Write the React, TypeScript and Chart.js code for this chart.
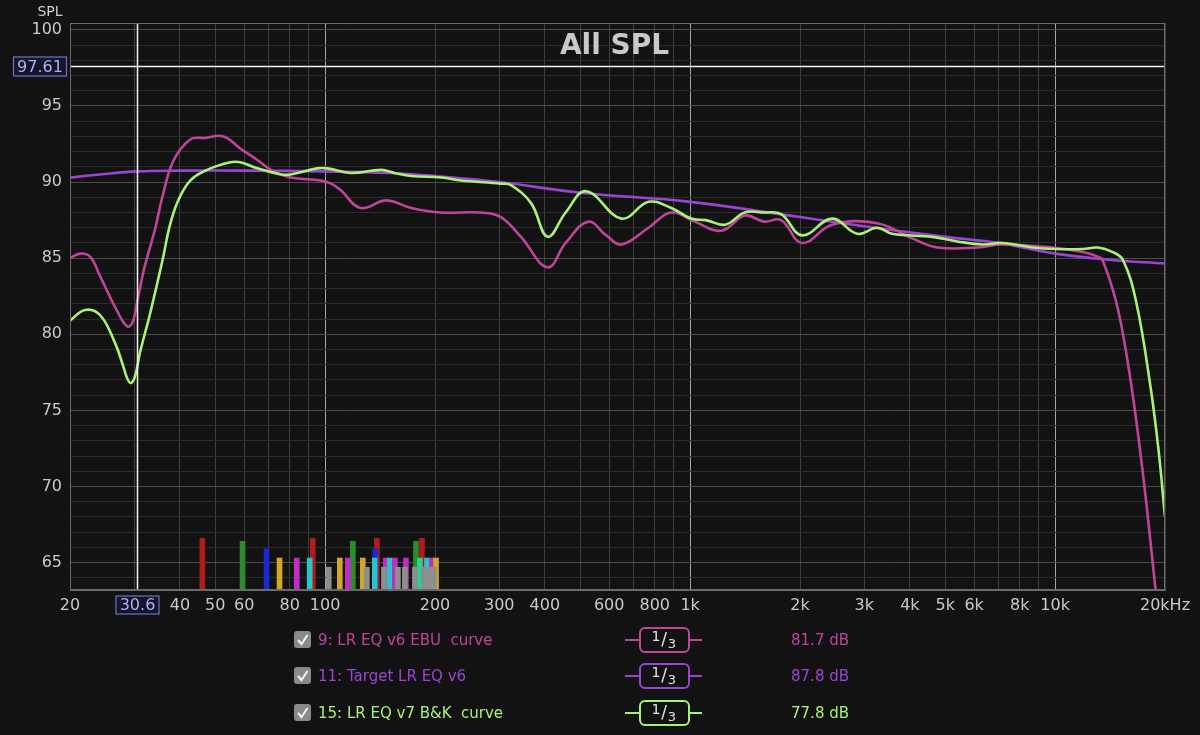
import React, { useEffect, useRef } from 'react';
import { Chart, registerables } from 'chart.js';

Chart.register(...registerables);

// ---- data ----
const FREQ_EBU = [20, 21.3, 22.7, 24.2, 25.8, 27.1, 28.0, 28.9, 29.8, 30.6, 32.0, 34.2, 35.8, 38.4, 42.7, 46.8, 52.7, 58.6, 64.8, 72.2, 80.4, 97.2, 103.8, 110, 125, 147, 172, 208, 267, 303, 344, 407, 456, 526, 589, 649, 769, 888, 1030, 1216, 1413, 1593, 1775, 2026, 2449, 3254, 4063, 4757, 6127, 7175, 9847, 11909, 13093, 13474, 14670, 15630, 16650, 17740, 18770, 19200];
const SPL_EBU = [85.0, 85.3, 85.1, 83.8, 82.4, 81.4, 80.8, 80.5, 80.9, 82.2, 84.4, 86.9, 89.0, 91.4, 92.8, 92.9, 93.0, 92.2, 91.5, 90.7, 90.3, 90.1, 89.9, 89.5, 88.3, 88.8, 88.3, 88.0, 88.0, 87.7, 86.4, 84.4, 86.0, 87.4, 86.5, 85.9, 87.0, 88.0, 87.4, 86.8, 87.8, 87.4, 87.5, 86.0, 87.2, 87.3, 86.3, 85.7, 85.7, 85.9, 85.7, 85.4, 85.1, 84.9, 82.2, 78.9, 74.5, 69.1, 63.6, 61.5];

const FREQ_TARGET = [20, 24.2, 30.6, 40, 60, 100, 150, 200, 300, 500, 1000, 2000, 3000, 5000, 7000, 10000, 14000, 20000];
const SPL_TARGET = [90.3, 90.5, 90.7, 90.75, 90.75, 90.7, 90.6, 90.4, 90.0, 89.3, 88.7, 87.7, 87.1, 86.4, 86.0, 85.3, 84.9, 84.65];

const FREQ_BK = [20, 22.0, 24.2, 26.6, 27.9, 28.7, 29.4, 30.2, 31.1, 33.1, 35.8, 37.6, 39.6, 42.7, 47.5, 55.0, 58.6, 65.2, 75.8, 80.4, 95.1, 101.3, 117.5, 142.6, 155, 172, 208, 236, 303, 323, 367, 407, 456, 519, 649, 769, 888, 1006, 1105, 1248, 1411, 1590, 1775, 2026, 2449, 2869, 3254, 3578, 4610, 5399, 6325, 7175, 8680, 10000, 11909, 13093, 14390, 15330, 16650, 18190, 19200, 20000];
const SPL_BK = [80.9, 81.6, 81.25, 79.4, 78.0, 77.1, 76.8, 77.3, 78.8, 81.3, 84.8, 87.2, 88.8, 90.1, 90.8, 91.3, 91.3, 90.9, 90.5, 90.5, 90.9, 90.9, 90.6, 90.8, 90.6, 90.4, 90.3, 90.1, 89.9, 89.8, 88.6, 86.4, 88.0, 89.4, 87.6, 88.7, 88.3, 87.6, 87.5, 87.2, 88.0, 88.0, 87.9, 86.5, 87.6, 86.6, 87.0, 86.6, 86.4, 86.1, 85.9, 86.0, 85.7, 85.6, 85.6, 85.7, 85.4, 84.9, 82.2, 76.8, 72.4, 68.0];

const BAR_FREQ = [46.1, 59.4, 69.1, 75.0, 83.6, 90.7, 92.5, 102.3, 109.7, 115.4, 119.1, 126.8, 130.1, 136.8, 137.2, 138.6, 144.9, 146.7, 150.5, 155.3, 158.3, 165.4, 166.5, 176.2, 177.4, 181.9, 184.2, 186.5, 190.1, 192.5, 196.3, 198.5, 201.3];
const BAR_LEVEL = [66.6, 66.4, 65.9, 65.3, 65.3, 65.3, 66.6, 64.7, 65.3, 65.3, 66.4, 65.3, 64.7, 65.3, 65.9, 66.6, 64.7, 65.3, 65.3, 65.3, 64.7, 64.7, 65.3, 64.7, 66.4, 65.3, 66.6, 64.7, 65.3, 64.7, 65.3, 64.7, 65.3];
const BAR_KIND = ['red', 'green', 'blue', 'yellow', 'magenta', 'cyan', 'red', 'gray', 'yellow', 'magenta', 'green', 'yellow', 'gray', 'cyan', 'blue', 'red', 'gray', 'magenta', 'cyan', 'magenta', 'gray', 'gray', 'magenta', 'gray', 'green', 'spring', 'red', 'gray', 'cyan', 'gray', 'magenta', 'gray', 'yellow'];
const BAR_PALETTE: Record<string, string> = {
  red: '#b01c1c', green: '#2a8c2a', blue: '#1c28d0', yellow: '#d0a828',
  magenta: '#c42ac4', cyan: '#2ac4c8', gray: '#8e8e8e', spring: '#1ed890',
};

const X_GRID = [20, 30, 40, 50, 60, 70, 80, 90, 100, 200, 300, 400, 500, 600, 700, 800, 900, 1000, 2000, 3000, 4000, 5000, 6000, 7000, 8000, 9000, 10000, 20000];
const X_LABELS: Record<number, string> = {
  20: '20', 40: '40', 50: '50', 60: '60', 80: '80', 100: '100', 200: '200', 300: '300', 400: '400',
  600: '600', 800: '800', 1000: '1k', 2000: '2k', 3000: '3k', 4000: '4k', 5000: '5k', 6000: '6k',
  8000: '8k', 10000: '10k', 20000: '20kHz',
};
const Y_MIN = 63.2;
const Y_MAX = 100.45;
const CURSOR_FREQ = 30.6;
const CURSOR_SPL = 97.61;

const SERIES_NAMES = ['9: LR EQ v6 EBU  curve', '11: Target LR EQ v6', '15: LR EQ v7 B&K  curve'];
const SERIES_DB = ['81.7 dB', '87.8 dB', '77.8 dB'];
const SERIES_COLORS = ['#c0449a', '#9c44d2', '#a8f276'];

const FONT = '"DejaVu Sans", "Noto Sans", sans-serif';
const BG = '#121212';

const toPoints = (xs: number[], ys: number[]) => xs.map((x, i) => ({ x, y: ys[i] }));

const overlayPlugin = {
  id: 'overlay',
  beforeDraw(chart: any) {
    const ctx = chart.ctx;
    ctx.save();
    ctx.fillStyle = BG;
    ctx.fillRect(0, 0, chart.width, chart.height);
    ctx.restore();
  },
  afterDatasetsDraw(chart: any) {
    const ctx = chart.ctx;
    const { left, right, top, bottom } = chart.chartArea;
    const xs = chart.scales.x;
    const ys = chart.scales.y;
    ctx.save();
    // cursor lines
    ctx.strokeStyle = '#f2f2f2';
    ctx.lineWidth = 1.5;
    const cx = Math.round(xs.getPixelForValue(CURSOR_FREQ)) + 0.5;
    const cy = Math.round(ys.getPixelForValue(CURSOR_SPL)) + 0.5;
    ctx.beginPath();
    ctx.moveTo(cx, top);
    ctx.lineTo(cx, bottom);
    ctx.moveTo(left, cy);
    ctx.lineTo(right, cy);
    ctx.stroke();
    // frame
    ctx.strokeStyle = '#6a6a6a';
    ctx.lineWidth = 1;
    ctx.strokeRect(left + 0.5, top + 0.5, right - left - 1, bottom - top - 1);
    // title
    ctx.fillStyle = '#c9c9c9';
    ctx.font = `bold 28px ${FONT}`;
    ctx.textAlign = 'center';
    ctx.textBaseline = 'alphabetic';
    ctx.fillText('All SPL', (left + right) / 2 - 3, top + 31);
    // axis title
    ctx.font = `14px ${FONT}`;
    ctx.fillStyle = '#d0d0d0';
    ctx.fillText('SPL', 50, 16);
    // cursor boxes
    const box = (text: string, xc: number, yc: number, w: number, h: number) => {
      ctx.fillStyle = '#14142a';
      ctx.fillRect(xc - w / 2, yc - h / 2, w, h);
      ctx.strokeStyle = '#7070c4';
      ctx.lineWidth = 1.2;
      ctx.strokeRect(xc - w / 2 + 0.5, yc - h / 2 + 0.5, w - 1, h - 1);
      ctx.fillStyle = '#aeaef4';
      ctx.font = `16px ${FONT}`;
      ctx.textAlign = 'center';
      ctx.textBaseline = 'middle';
      ctx.fillText(text, xc, yc + 1);
    };
    box(CURSOR_SPL.toFixed(2), 40, cy, 54, 20);
    box(String(CURSOR_FREQ), cx, bottom + 15, 44, 19);
    // legend
    const rowsY = [640, 676, 713];
    rowsY.forEach((yy, i) => {
      const col = SERIES_COLORS[i];
      // checkbox
      ctx.fillStyle = '#8a8a8a';
      ctx.beginPath();
      ctx.roundRect(294, yy - 9, 17, 17, 3);
      ctx.fill();
      ctx.strokeStyle = '#f4f4f4';
      ctx.lineWidth = 2;
      ctx.beginPath();
      ctx.moveTo(298, yy);
      ctx.lineTo(301.5, yy + 4);
      ctx.lineTo(307.5, yy - 5);
      ctx.stroke();
      // name
      ctx.fillStyle = col;
      ctx.font = `15px ${FONT}`;
      ctx.textAlign = 'left';
      ctx.textBaseline = 'middle';
      ctx.fillText(SERIES_NAMES[i], 318, yy + 1);
      // line symbol
      ctx.strokeStyle = col;
      ctx.lineWidth = 2;
      ctx.beginPath();
      ctx.moveTo(625, yy);
      ctx.lineTo(702, yy);
      ctx.stroke();
      ctx.fillStyle = BG;
      ctx.beginPath();
      ctx.roundRect(640, yy - 12, 49, 24, 5);
      ctx.fill();
      ctx.stroke();
      ctx.fillStyle = '#e2e2e2';
      ctx.font = `14px ${FONT}`;
      ctx.textAlign = 'center';
      ctx.fillText('1', 656, yy - 3);
      ctx.font = `17px ${FONT}`;
      ctx.fillText('/', 664, yy + 1);
      ctx.font = `13px ${FONT}`;
      ctx.fillText('3', 672, yy + 5);
      // value
      ctx.fillStyle = col;
      ctx.font = `15px ${FONT}`;
      ctx.textAlign = 'right';
      ctx.fillText(SERIES_DB[i], 849, yy + 1);
    });
    ctx.restore();
  },
};

export default function App() {
  const canvasRef = useRef<HTMLCanvasElement | null>(null);

  useEffect(() => {
    document.body.style.margin = '0';
    document.body.style.background = BG;
    const canvas = canvasRef.current;
    if (!canvas) return;

    const barOrder = BAR_FREQ.map((_, i) => i).sort((a, b) => BAR_LEVEL[b] - BAR_LEVEL[a]);
    const barData = barOrder.map((i) => ({ x: BAR_FREQ[i], y: [Y_MIN, BAR_LEVEL[i]] }));
    const barColors = barOrder.map((i) => BAR_PALETTE[BAR_KIND[i]]);

    const lineDs = (label: string, xs: number[], ys: number[], color: string, order: number) => ({
      type: 'line' as const,
      label,
      data: toPoints(xs, ys),
      borderColor: color,
      backgroundColor: color,
      borderWidth: 2.6,
      pointRadius: 0,
      cubicInterpolationMode: 'default' as const,
      tension: 0.4,
      fill: false,
      order,
    });

    const chart = new Chart(canvas, {
      type: 'line',
      data: {
        datasets: [
          {
            type: 'bar' as const,
            label: 'filters',
            data: barData as any,
            backgroundColor: barColors,
            barThickness: 5,
            borderWidth: 0,
            order: 4,
          } as any,
          lineDs(SERIES_NAMES[1], FREQ_TARGET, SPL_TARGET, SERIES_COLORS[1], 3),
          lineDs(SERIES_NAMES[0], FREQ_EBU, SPL_EBU, SERIES_COLORS[0], 2),
          lineDs(SERIES_NAMES[2], FREQ_BK, SPL_BK, SERIES_COLORS[2], 1),
        ],
      },
      options: {
        responsive: false,
        animation: false,
        layout: { padding: { top: 23, right: 35, bottom: 115, left: 0 } },
        plugins: { legend: { display: false }, tooltip: { enabled: false }, title: { display: false } },
        scales: {
          x: {
            type: 'logarithmic',
            min: 20,
            max: 20000,
            offset: false,
            afterBuildTicks: (scale: any) => {
              scale.ticks = X_GRID.map((v) => ({ value: v }));
            },
            afterFit: (scale: any) => {
              scale.height = 30;
            },
            ticks: {
              autoSkip: false,
              maxRotation: 0,
              minRotation: 0,
              padding: 6,
              color: '#cacaca',
              font: { family: FONT, size: 16 },
              callback: (v: any) => X_LABELS[Number(v)] ?? '',
            },
            grid: {
              drawTicks: false,
              offset: false,
              lineWidth: 1,
              color: (c: any) => {
                const v = c.tick ? c.tick.value : 0;
                return v === 100 || v === 1000 || v === 10000 ? '#a6a6a6' : '#3e3e3e';
              },
            },
            border: { display: true, color: '#6a6a6a' },
          },
          y: {
            type: 'linear',
            min: Y_MIN,
            max: Y_MAX,
            afterBuildTicks: (scale: any) => {
              const t = [];
              for (let v = 64; v <= 100; v++) t.push({ value: v });
              scale.ticks = t;
            },
            afterFit: (scale: any) => {
              scale.width = 70;
            },
            ticks: {
              autoSkip: false,
              padding: 8,
              color: '#cacaca',
              font: { family: FONT, size: 16 },
              callback: (v: any) => (Number(v) % 5 === 0 ? String(v) : ''),
            },
            grid: {
              drawTicks: false,
              lineWidth: 1,
              color: (c: any) => {
                const v = c.tick ? c.tick.value : 0;
                return v % 5 === 0 ? '#4c4c4c' : '#2c2c2c';
              },
            },
            border: { display: true, color: '#6a6a6a' },
          },
        },
      },
      plugins: [overlayPlugin],
    });

    return () => chart.destroy();
  }, []);

  return (
    <div style={{ position: 'fixed', left: 0, top: 0, width: 1200, height: 735, background: BG }}>
      <canvas ref={canvasRef} width={1200} height={735} style={{ width: 1200, height: 735, display: 'block' }} />
    </div>
  );
}
